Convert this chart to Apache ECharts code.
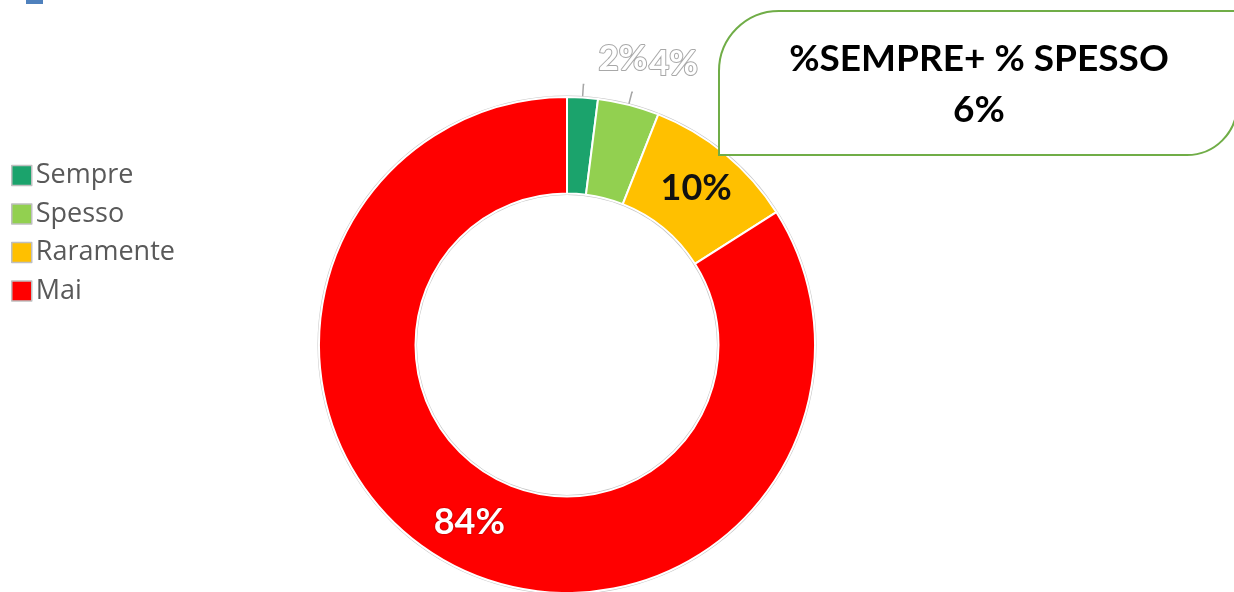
<!DOCTYPE html>
<html>
<head>
<meta charset="utf-8">
<script src="https://cdn.jsdelivr.net/npm/echarts@6/dist/echarts.min.js"></script>
<style>
  html, body { margin: 0; padding: 0; background: #ffffff; }
  #chart { width: 1234px; height: 592px; }
</style>
</head>
<body>
<div id="chart"></div>
<script>
// Frequency categories and their shares (%)
var categories = ['Sempre', 'Spesso', 'Raramente', 'Mai'];
var shares = [2, 4, 10, 84];
var sliceColors = ['#1BA36C', '#92D050', '#FFC000', '#FF0000'];
var calloutTitle = '%SEMPRE+ % SPESSO';

var FONT = 'Lato, "Open Sans", sans-serif';
var CENTER = [567, 345];

// label look per slice: the two thin slices get outlined text above the ring
var labelStyles = [
  { position: 'outside', color: '#ffffff', textBorderColor: '#a8a8a8', textBorderWidth: 2 },
  { position: 'outside', color: '#ffffff', textBorderColor: '#a8a8a8', textBorderWidth: 2 },
  { position: 'inside', color: '#111111' },
  { position: 'inside', color: '#ffffff', textShadowColor: 'rgba(0,0,0,0.45)', textShadowBlur: 2 }
];

var pieData = categories.map(function (name, i) {
  var ls = labelStyles[i];
  var label = Object.assign({ show: true, fontFamily: FONT, fontWeight: 'bold', fontSize: ls.position === 'inside' ? 36 : 35 }, ls);
  var item = {
    name: name,
    value: shares[i],
    itemStyle: { color: sliceColors[i] },
    label: label
  };
  if (ls.position === 'outside') {
    item.labelLine = { show: true, length: 13, length2: 1, lineStyle: { color: '#a6a6a6', width: 1.5 } };
  } else {
    item.labelLine = { show: false };
  }
  return item;
});

var spotlight = shares[0] + shares[1];

var chart = echarts.init(document.getElementById('chart'), null, { renderer: 'canvas' });
chart.setOption({
  backgroundColor: '#ffffff',
  animation: false,
  legend: {
    orient: 'vertical',
    left: 6,
    top: 157,
    itemWidth: 20,
    itemHeight: 20,
    itemGap: 11.5,
    icon: 'rect',
    data: categories,
    itemStyle: { borderColor: '#bfbfbf', borderWidth: 1.5 },
    textStyle: { fontFamily: '"Open Sans", sans-serif', fontSize: 27, color: '#595959', lineHeight: 27, padding: [0, 0, 0, -1] }
  },
  series: [
    {
      // thin grey rim around the ring
      type: 'pie',
      silent: true,
      center: CENTER,
      radius: [150, 249.5],
      label: { show: false },
      labelLine: { show: false },
      itemStyle: { color: '#c6c6c6' },
      data: [{ value: 1, name: '' }],
      legendHoverLink: false,
      z: 1
    },
    {
      type: 'pie',
      center: CENTER,
      radius: [151.5, 248],
      startAngle: 90,
      clockwise: true,
      avoidLabelOverlap: false,
      itemStyle: { borderColor: '#ffffff', borderWidth: 2 },
      label: { formatter: '{c}%' },
      labelLayout: function (params) {
        // lift the outside labels above the ends of their leader lines
        if (params.dataIndex === 0) return { dx: 9, dy: -26 };
        if (params.dataIndex === 1) return { dx: 11, dy: -28 };
        return {};
      },
      data: pieData,
      z: 2
    }
  ],
  graphic: [
    {
      type: 'rect',
      left: 26, top: 0,
      shape: { width: 17, height: 4 },
      style: { fill: '#4F81BD' }
    },
    {
      type: 'rect',
      left: 718, top: 10,
      shape: { width: 518, height: 144, r: [60, 0, 50, 0] },
      style: { fill: '#ffffff', stroke: '#70AD47', lineWidth: 2 },
      z: 10
    },
    {
      type: 'text',
      x: 979, y: 59,
      style: {
        text: calloutTitle,
        fontFamily: FONT, fontWeight: 'bold', fontSize: 37,
        fill: '#000000', align: 'center', verticalAlign: 'middle'
      },
      z: 11
    },
    {
      type: 'text',
      x: 979, y: 110,
      style: {
        text: spotlight + '%',
        fontFamily: FONT, fontWeight: 'bold', fontSize: 37,
        fill: '#000000', align: 'center', verticalAlign: 'middle'
      },
      z: 11
    }
  ]
});
</script>
</body>
</html>
